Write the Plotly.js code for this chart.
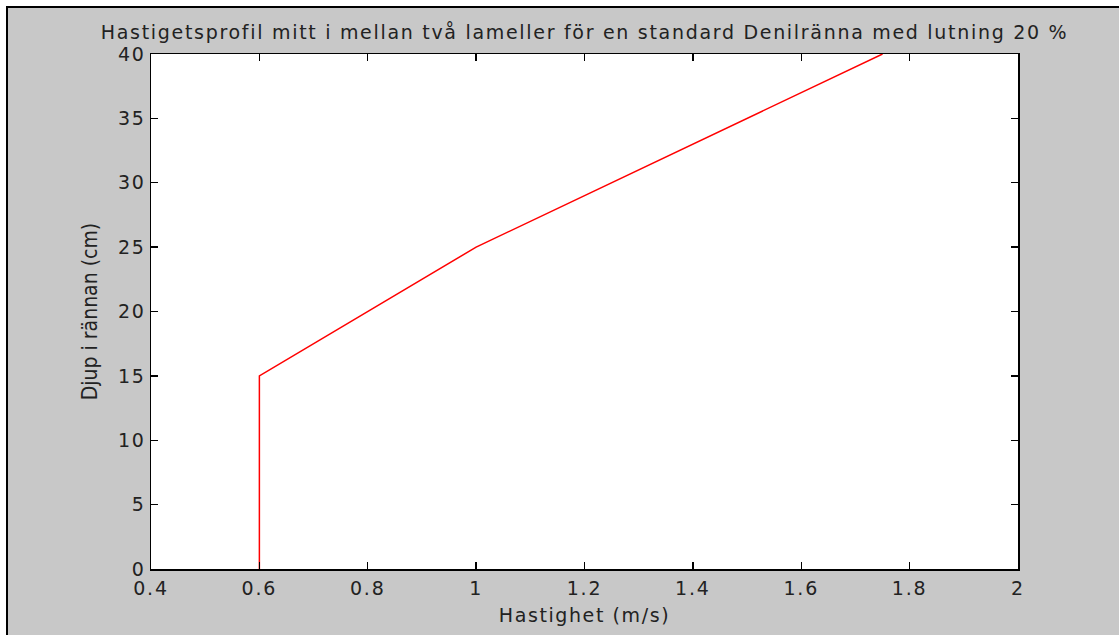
<!DOCTYPE html>
<html>
<head>
<meta charset="utf-8">
<script src="https://cdn.plot.ly/plotly-3.0.1.min.js"></script>
<style>
html,body{margin:0;padding:0;background:#ffffff;width:1119px;height:635px;overflow:hidden;}
#wrap{position:absolute;left:6px;top:6px;border-left:2px solid #000;border-top:2px solid #000;}
#chart{width:1111px;height:627px;}
#chart .gtitle{letter-spacing:1.7px;}
#chart .xtick text, #chart .ytick text{letter-spacing:1.8px;}
#chart .g-xtitle text{letter-spacing:1.6px;}
</style>
</head>
<body>
<div id="wrap"><div id="chart"></div></div>
<script>
const velocity = [0.6, 0.6, 1.0, 1.75];
const depth = [0, 15, 25, 40];
const xTicks = [0.4, 0.6, 0.8, 1, 1.2, 1.4, 1.6, 1.8, 2];
const yTicks = [0, 5, 10, 15, 20, 25, 30, 35, 40];
const titleText = "Hastigetsprofil mitt i mellan två lameller för en standard Denilränna med lutning 20 %";
const xTitle = "Hastighet (m/s)";
const yTitle = "Djup i rännan (cm)";

const fontFam = "DejaVu Sans, Arial, sans-serif";
const trace = {
  x: velocity, y: depth, mode: "lines", type: "scatter",
  line: {color: "#ff0000", width: 1.5}, hoverinfo: "none"
};
const axisCommon = {
  showline: true, linecolor: "#000", linewidth: 1.5, mirror: "ticks",
  ticks: "inside", ticklen: 7, tickcolor: "#000", tickwidth: 1.3,
  showgrid: false, zeroline: false,
  tickfont: {family: fontFam, size: 19, color: "#222"}
};
const layout = {
  width: 1111, height: 627,
  paper_bgcolor: "#c8c8c8", plot_bgcolor: "#ffffff",
  margin: {l: 143, r: 101, t: 46, b: 66, pad: 0},
  showlegend: false,
  title: {text: titleText, font: {family: fontFam, size: 19, color: "#222"},
          x: 0.5, xref: "paper", y: 1 - 24/627, yref: "container", yanchor: "middle"},
  xaxis: Object.assign({}, axisCommon, {
    range: [0.4, 2], tickmode: "array", tickvals: xTicks,
    ticktext: xTicks.map(String), ticklabelstandoff: 2,
    title: {text: xTitle, font: {family: fontFam, size: 19, color: "#222"}, standoff: 10}
  }),
  yaxis: Object.assign({}, axisCommon, {
    range: [0, 40], tickmode: "array", tickvals: yTicks,
    ticktext: yTicks.map(String),
    title: {text: yTitle, font: {family: "Liberation Sans Narrow, DejaVu Sans Condensed, sans-serif", size: 21, color: "#222"}, standoff: 18}
  })
};
Plotly.newPlot("chart", [trace], layout, {displayModeBar: false, staticPlot: true});
</script>
</body>
</html>
